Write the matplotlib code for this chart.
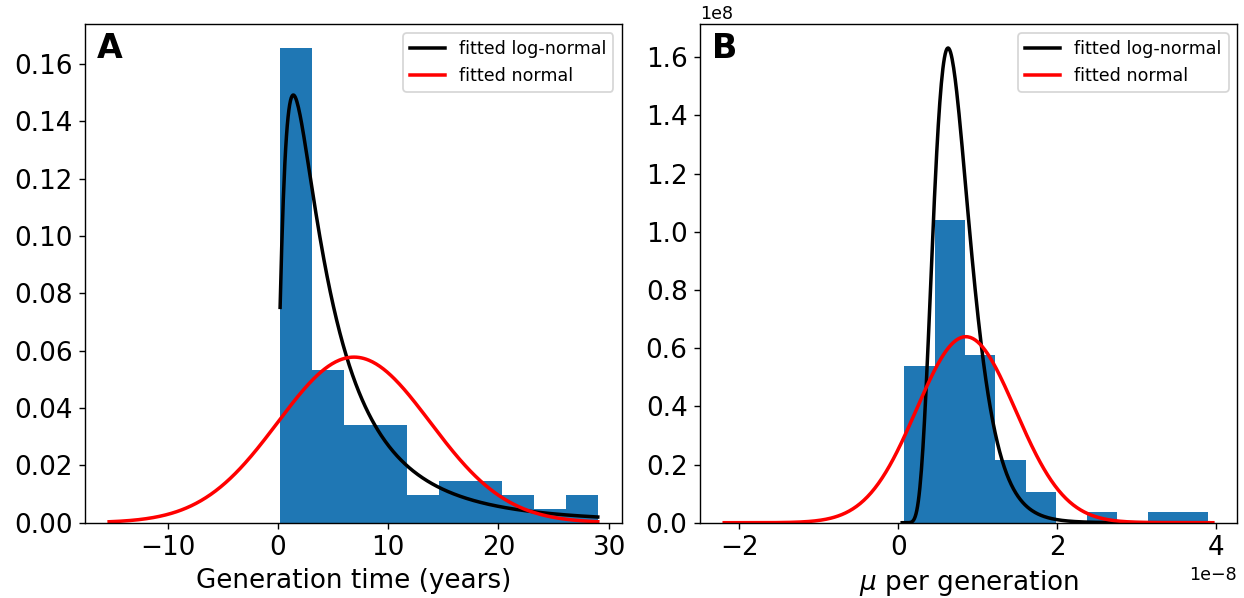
import numpy as np
import matplotlib
matplotlib.use("Agg")
import matplotlib.pyplot as plt

# ---------------- data ----------------
# Panel A: generation time histogram (density)
gen_edges = [0.2, 3.08, 5.96, 8.84, 11.72, 14.6, 17.48, 20.36, 23.24, 26.12, 29.0]
gen_density = [0.1655, 0.0534, 0.0340, 0.0340, 0.0097, 0.0146, 0.0146, 0.0097, 0.0049, 0.0097]
# fitted log-normal (shape, loc, scale) and normal (mean, sd)
gen_lognorm = (0.955, -0.38, 4.42)
gen_norm = (6.9, 6.91)
gen_lognorm_range = (0.2, 29.0)
gen_norm_range = (-15.3, 29.0)

# Panel B: mutation rate per generation histogram (density), x in units of 1e-8
mu_edges = [0.075, 0.458, 0.841, 1.224, 1.607, 1.99, 2.373, 2.756, 3.139, 3.522, 3.905]
mu_density = [0.540, 1.040, 0.576, 0.214, 0.107, 0.0, 0.036, 0.0, 0.036, 0.036]  # x 1e8
mu_lognorm = (0.365, 0.0, 0.716)
mu_norm = (0.851, 0.624)
mu_lognorm_range = (0.05, 3.905)
mu_norm_range = (-2.19, 3.96)


def lognorm_pdf(x, s, loc, scale):
    z = (x - loc) / scale
    return np.exp(-np.log(z) ** 2 / (2 * s ** 2)) / (z * s * np.sqrt(2 * np.pi) * scale)


def norm_pdf(x, m, sd):
    return np.exp(-((x - m) / sd) ** 2 / 2) / (sd * np.sqrt(2 * np.pi))


DPI = 126
fig, axes = plt.subplots(1, 2, figsize=(1244 / DPI, 598 / DPI), dpi=DPI)
fig.subplots_adjust(left=0.0681, right=0.9946, bottom=0.1259, top=0.9594, wspace=0.1444)


def panel(ax, edges, dens, ln, nm, ln_rng, nm_rng, xscale, yscale, label, xlabel):
    edges = np.asarray(edges) * xscale
    dens = np.asarray(dens) * yscale
    ax.bar(edges[:-1], dens, width=np.diff(edges), align='edge', color='#1f77b4')
    x1 = np.linspace(ln_rng[0], ln_rng[1], 400)
    y1 = lognorm_pdf(x1, *ln)
    ax.plot(x1 * xscale, y1 / xscale, color='black', lw=2, label='fitted log-normal')
    x2 = np.linspace(nm_rng[0], nm_rng[1], 400)
    y2 = norm_pdf(x2, *nm)
    ax.plot(x2 * xscale, y2 / xscale, color='red', lw=2, label='fitted normal')
    ax.legend(loc='upper right', fontsize=10)
    ax.tick_params(labelsize=15)
    ax.set_xlabel(xlabel, fontsize=15)
    ax.text(0.022, 0.985, label, transform=ax.transAxes, fontsize=19,
            fontweight='bold', va='top', ha='left')
    ax.xaxis.get_offset_text().set_fontsize(10)
    ax.yaxis.get_offset_text().set_fontsize(10)


panel(axes[0], gen_edges, gen_density, gen_lognorm, gen_norm,
      gen_lognorm_range, gen_norm_range, 1.0, 1.0, 'A', 'Generation time (years)')
panel(axes[1], mu_edges, mu_density, mu_lognorm, mu_norm,
      mu_lognorm_range, mu_norm_range, 1e-8, 1e8, 'B', r'$\mu$ per generation')

fig.savefig('out.png', dpi=DPI)
